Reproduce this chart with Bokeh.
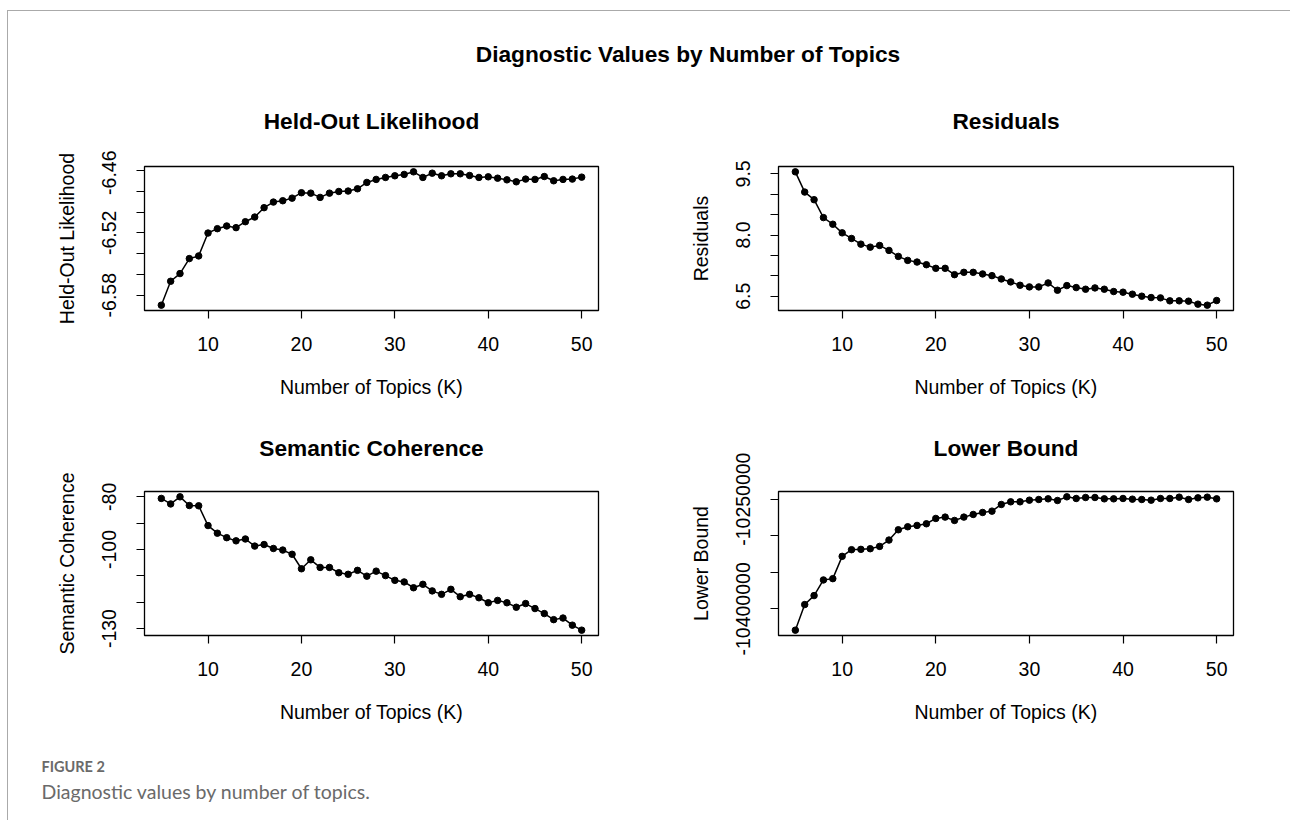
from bokeh.plotting import figure
from bokeh.layouts import column, row
from bokeh.models import Range1d, FixedTicker, CustomJSTickFormatter, Label
from bokeh.embed import file_html
from bokeh.resources import INLINE

# ---------------- data ----------------
K = list(range(5, 51))

held_out = [-6.5896, -6.5666, -6.5592, -6.5448, -6.5422, -6.5202, -6.5160, -6.5134,
            -6.5150, -6.5093, -6.5048, -6.4958, -6.4904, -6.4891, -6.4866, -6.4814,
            -6.4818, -6.4859, -6.4818, -6.4802, -6.4798, -6.4776, -6.4715, -6.4686,
            -6.4667, -6.4651, -6.4638, -6.4613, -6.4667, -6.4626, -6.4651, -6.4632,
            -6.4632, -6.4648, -6.4667, -6.4661, -6.4674, -6.4690, -6.4709, -6.4683,
            -6.4686, -6.4658, -6.4699, -6.4686, -6.4683, -6.4664]

residuals = [9.549, 9.053, 8.866, 8.427, 8.264, 8.053, 7.915, 7.776, 7.703, 7.744,
             7.622, 7.476, 7.378, 7.337, 7.272, 7.183, 7.183, 7.028, 7.085, 7.085,
             7.045, 7.004, 6.923, 6.850, 6.768, 6.728, 6.728, 6.825, 6.646, 6.760,
             6.711, 6.671, 6.703, 6.671, 6.614, 6.598, 6.549, 6.500, 6.467, 6.459,
             6.386, 6.386, 6.378, 6.305, 6.280, 6.394]

coherence = [-80.6, -82.7, -80.0, -83.3, -83.4, -90.9, -93.8, -95.5, -96.7, -96.0,
             -98.7, -98.1, -99.6, -100.2, -101.8, -107.3, -103.9, -106.8, -106.8, -108.8,
             -109.4, -107.9, -110.1, -108.2, -109.9, -111.7, -112.3, -114.5, -113.2, -115.7,
             -117.0, -115.1, -117.9, -117.0, -118.3, -120.2, -119.3, -120.2, -121.9, -120.5,
             -122.4, -124.3, -126.6, -126.0, -128.7, -130.6]

lower_bound = [-10429091, -10394091, -10381818, -10360455, -10358636, -10328182,
               -10319091, -10318636, -10317727, -10314545, -10305909, -10291818,
               -10287727, -10285909, -10283636, -10276364, -10274545, -10279091,
               -10274545, -10270909, -10268182, -10266364, -10257273, -10253636,
               -10253636, -10251364, -10250455, -10249545, -10251818, -10246818,
               -10249091, -10247727, -10247727, -10249545, -10249545, -10249091,
               -10250000, -10250455, -10251364, -10249091, -10249091, -10247273,
               -10250455, -10248182, -10247273, -10249545]

x_ticks = [10, 20, 30, 40, 50]

held_ticks = [-6.58, -6.56, -6.54, -6.52, -6.50, -6.48, -6.46]
held_labeled = [-6.58, -6.52, -6.46]
resid_ticks = [6.5, 7.0, 7.5, 8.0, 8.5, 9.0, 9.5]
resid_labeled = [6.5, 8.0, 9.5]
coh_ticks = [-130, -120, -110, -100, -90, -80]
coh_labeled = [-130, -100, -80]
lb_ticks = [-10400000, -10350000, -10300000, -10250000]
lb_labeled = [-10400000, -10250000]

main_title = "Diagnostic Values by Number of Topics"
panel_titles = ["Held-Out Likelihood", "Residuals", "Semantic Coherence", "Lower Bound"]
y_labels = ["Held-Out Likelihood", "Residuals", "Semantic Coherence", "Lower Bound"]
x_label = "Number of Topics (K)"
fig_label = "FIGURE 2"
caption = "Diagnostic values by number of topics."

FONT = "Liberation Sans"
LAB_SIZE = "19.5px"
TITLE_SIZE = "22.7px"


def padded(vals):
    lo, hi = min(vals), max(vals)
    d = (hi - lo) * 0.04
    return Range1d(lo - d, hi + d)


def panel(ylab, yvals, yticks, ylabeled, digits, width, height, bl, br, bt, bb, title=None):
    p = figure(width=width, height=height, output_backend="svg", title=title,
               toolbar_location=None, x_range=padded(K), y_range=padded(yvals),
               min_border_left=bl, min_border_right=br,
               min_border_top=bt, min_border_bottom=bb)
    if title is not None:
        p.title.text_font = FONT
        p.title.text_font_size = TITLE_SIZE
        p.title.text_font_style = "bold"
        p.title.text_color = "black"
        p.title.align = "center"
        p.title.standoff = 61
    p.grid.visible = False
    p.outline_line_color = "black"
    p.outline_line_width = 1.3
    p.outline_line_alpha = 1.0
    p.background_fill_color = "white"
    p.border_fill_color = "white"

    for ax in (p.xaxis[0], p.yaxis[0]):
        ax.axis_line_color = None
        ax.major_tick_line_color = "black"
        ax.major_tick_line_width = 1.2
        ax.major_tick_in = 0
        ax.major_tick_out = 8
        ax.minor_tick_line_color = None
        ax.major_label_text_font = FONT
        ax.major_label_text_font_size = LAB_SIZE
        ax.major_label_text_color = "black"
        ax.axis_label_text_font = FONT
        ax.axis_label_text_font_size = LAB_SIZE
        ax.axis_label_text_font_style = "normal"
        ax.axis_label_text_color = "black"

    xa = p.xaxis[0]
    xa.ticker = FixedTicker(ticks=x_ticks)
    xa.axis_label = x_label
    xa.major_label_standoff = 18
    xa.axis_label_standoff = 22

    ya = p.yaxis[0]
    ya.ticker = FixedTicker(ticks=yticks)
    ya.formatter = CustomJSTickFormatter(args=dict(keep=ylabeled, digits=digits), code="""
        for (const k of keep) {
            if (Math.abs(tick - k) < 1e-7 * Math.max(1, Math.abs(k))) return tick.toFixed(digits);
        }
        return "";
    """)
    ya.major_label_orientation = "parallel"
    ya.axis_label = ylab
    ya.major_label_standoff = 20
    ya.axis_label_standoff = 22

    p.line(K, yvals, line_color="black", line_width=1.5)
    p.scatter(K, yvals, size=6.5, fill_color="black", line_color="black")
    return p


LW, RW = 642, 640
TW = LW + RW
FH = 144
BT1, BB1 = 16, 92
BT2, BB2 = 89, 110

p1 = panel(y_labels[0], held_out, held_ticks, held_labeled, 2,
           LW, BT1 + FH + BB1, 136, 52, BT1, BB1)
p2 = panel(y_labels[1], residuals, resid_ticks, resid_labeled, 1,
           RW, BT1 + FH + BB1, 128, 57, BT1, BB1)
p3 = panel(y_labels[2], coherence, coh_ticks, coh_labeled, 0,
           LW, BT2 + FH + BB2, 136, 52, BT2, BB2, title=panel_titles[2])
p4 = panel(y_labels[3], lower_bound, lb_ticks, lb_labeled, 0,
           RW, BT2 + FH + BB2, 128, 57, BT2, BB2, title=panel_titles[3])


def blank(w, h):
    f = figure(width=w, height=h, output_backend="svg", toolbar_location=None,
               x_range=Range1d(0, w), y_range=Range1d(0, h), min_border=0)
    f.axis.visible = False
    f.grid.visible = False
    f.outline_line_color = None
    f.background_fill_color = "white"
    f.border_fill_color = "white"
    return f


def title_label(x, y, text, size=TITLE_SIZE):
    return Label(x=x, y=y, text=text, text_font=FONT, text_font_size=size,
                 text_font_style="bold", text_align="center",
                 text_baseline="alphabetic", text_color="black")


# centres of the plot frames within the row
c_left = 136 + (LW - 136 - 52) / 2
c_right = LW + 128 + (RW - 128 - 57) / 2

header = blank(TW, 139)
header.add_layout(title_label(679.5, 97, main_title))
header.add_layout(title_label(c_left, 30, panel_titles[0]))
header.add_layout(title_label(c_right, 30, panel_titles[1]))

cap = blank(TW, 75)
cap.add_layout(Label(x=33, y=54, text=fig_label, text_font="Lato", text_font_size="14.5px",
                     text_font_style="bold", text_align="left",
                     text_baseline="alphabetic", text_color="#6a6a6a"))
cap.add_layout(Label(x=33, y=29, text=caption, text_font="Lato", text_font_size="19.5px",
                     text_align="left", text_baseline="alphabetic", text_color="#6a6a6a"))

layout = column(header, row(p1, p2), row(p3, p4), cap,
                styles={"border-left": "1.5px solid #aaaaaa",
                        "border-top": "1.5px solid #aaaaaa",
                        "margin-left": "6.5px",
                        "margin-top": "9.5px"})

open("out.html", "w").write(file_html(layout, INLINE))
